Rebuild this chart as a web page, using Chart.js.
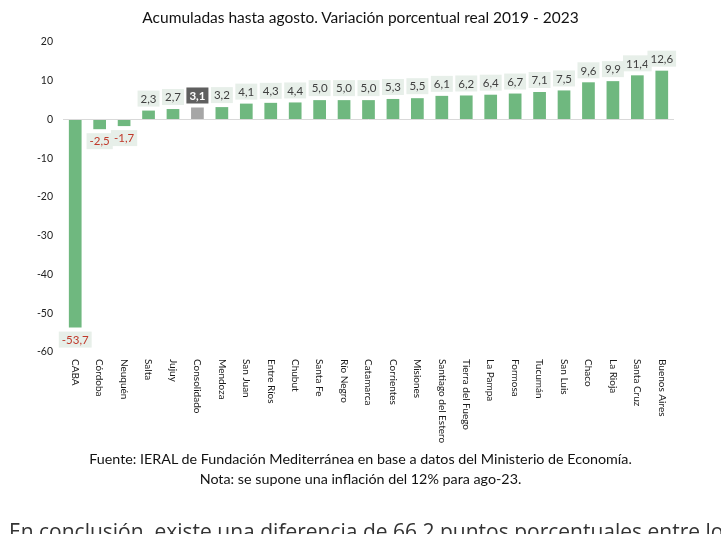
<!DOCTYPE html>
<html>
<head>
<meta charset="utf-8">
<script src="https://cdn.jsdelivr.net/npm/chart.js@4.4.0/dist/chart.umd.min.js"></script>
<style>
  html, body { margin:0; padding:0; background:#fff; width:721px; height:534px; overflow:hidden; }
  #wrap { position:absolute; left:0; top:0; width:721px; height:534px; }
  .t { position:absolute; left:0; width:721px; text-align:center; font-family:Lato, "Open Sans", sans-serif; color:#111; white-space:nowrap; }
  #title { top:8px; font-size:15.5px; }
  #src1 { top:450px; font-size:14.3px; }
  #src2 { top:470px; font-size:14.3px; }
  #bottom { position:absolute; left:9px; top:519px; font-family:"Open Sans", sans-serif; font-size:21px; color:#333; white-space:nowrap; line-height:24px; }
</style>
</head>
<body>
<div id="wrap"><canvas id="c" width="721" height="534"></canvas></div>
<div class="t" id="title">Acumuladas hasta agosto. Variación porcentual real 2019 - 2023</div>
<div class="t" id="src1">Fuente: IERAL de Fundación Mediterránea en base a datos del Ministerio de Economía.</div>
<div class="t" id="src2">Nota: se supone una inflación del 12% para ago-23.</div>
<div id="bottom">En conclusión, existe una diferencia de 66,2 puntos porcentuales entre lo</div>
<script>
const categories = ["CABA","Córdoba","Neuquén","Salta","Jujuy","Consolidado","Mendoza","San Juan","Entre Ríos","Chubut","Santa Fe","Río Negro","Catamarca","Corrientes","Misiones","Santiago del Estero","Tierra del Fuego","La Pampa","Formosa","Tucumán","San Luis","Chaco","La Rioja","Santa Cruz","Buenos Aires"];
const values = [-53.7,-2.5,-1.7,2.3,2.7,3.1,3.2,4.1,4.3,4.4,5.0,5.0,5.0,5.3,5.5,6.1,6.2,6.4,6.7,7.1,7.5,9.6,9.9,11.4,12.6];
const highlight = "Consolidado";
const yTicks = [20,10,0,-10,-20,-30,-40,-50,-60];

const GREEN = "#6fb87f";
const GRAY = "#a6a6a6";

const fmt = v => v.toFixed(1).replace(".", ",");

const labelPlugin = {
  id: "labels",
  afterDatasetsDraw(chart) {
    const ctx = chart.ctx;
    const meta = chart.getDatasetMeta(0);
    const xs = chart.scales.x;
    ctx.save();
    meta.data.forEach((bar, i) => {
      const v = values[i];
      const txt = fmt(v);
      const isHi = categories[i] === highlight;
      ctx.font = (isHi ? "bold " : "") + "11.5px Lato, 'Open Sans', sans-serif";
      const w = ctx.measureText(txt).width + 6;
      const h = 16;
      const cx = bar.x;
      let cy;
      if (v >= 0) cy = bar.y - 4 - h / 2;
      else cy = bar.y + 4 + h / 2;
      ctx.fillStyle = isHi ? "#5f5f5f" : "#e7efe9";
      ctx.fillRect(cx - w / 2, cy - h / 2, w, h);
      ctx.fillStyle = isHi ? "#ffffff" : (v < 0 ? "#c0392b" : "#404040");
      ctx.textAlign = "center";
      ctx.textBaseline = "middle";
      ctx.fillText(txt, cx, cy + 0.5);
    });
    // rotated category labels reading top-to-bottom
    ctx.font = "10px Lato, 'Open Sans', sans-serif";
    ctx.fillStyle = "#1a1a1a";
    categories.forEach((c, i) => {
      const x = xs.getPixelForValue(i);
      ctx.save();
      ctx.translate(x, chart.chartArea.bottom + 7);
      ctx.rotate(Math.PI / 2);
      ctx.textAlign = "left";
      ctx.textBaseline = "middle";
      ctx.fillText(c, 0, 0);
      ctx.restore();
    });
    ctx.restore();
  }
};

new Chart(document.getElementById("c"), {
  type: "bar",
  data: {
    labels: categories,
    datasets: [{
      data: values,
      backgroundColor: categories.map(c => c === highlight ? GRAY : GREEN),
      categoryPercentage: 1,
      barPercentage: 0.52
    }]
  },
  options: {
    responsive: false,
    animation: false,
    devicePixelRatio: 1,
    layout: { padding: { top: 42, right: 47, bottom: 182, left: 0 } },
    plugins: { legend: { display: false }, tooltip: { enabled: false } },
    scales: {
      x: {
        display: false
      },
      y: {
        min: -60, max: 20,
        afterFit(s) { s.width = 63; },
        afterBuildTicks(s) { s.ticks = yTicks.map(v => ({ value: v })); },
        ticks: {
          font: { family: "Lato, 'Open Sans', sans-serif", size: 10.5 },
          color: "#222",
          padding: 10,
          callback: v => String(v)
        },
        border: { display: false },
        grid: {
          drawTicks: false,
          color: ctx => (ctx.tick && ctx.tick.value === 0) ? "#d9d9d9" : "rgba(0,0,0,0)",
          lineWidth: 1
        }
      }
    }
  },
  plugins: [labelPlugin]
});
</script>
</body>
</html>
